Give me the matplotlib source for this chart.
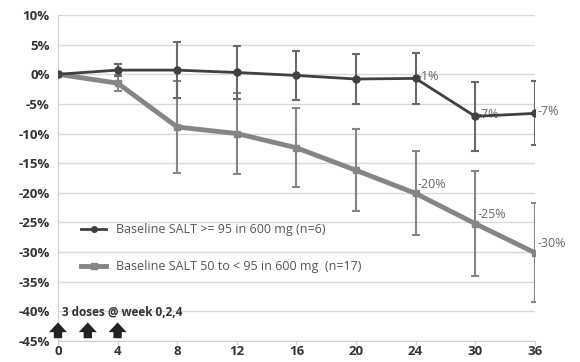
import matplotlib.pyplot as plt
from matplotlib.lines import Line2D
import numpy as np

weeks = ['0', '4', '8', '12', '16', '20', '24', '30', '36']
high = [0, 0.7, 0.7, 0.3, -0.2, -0.8, -0.7, -7.1, -6.6]
high_err = [0, 1.0, 4.7, 4.4, 4.1, 4.2, 4.3, 5.8, 5.4]
mid = [0, -1.5, -8.9, -10.0, -12.4, -16.2, -20.1, -25.2, -30.1]
mid_err = [0, 1.3, 7.8, 6.9, 6.7, 6.9, 7.1, 8.8, 8.4]
high_lbl = ['', '', '', '', '', '', '-1%', '-7%', '-7%']
mid_lbl = ['', '', '', '', '', '', '-20%', '-25%', '-30%']
dose_weeks = [0, 2, 4]

plt.rcParams['font.family'] = ['Open Sans', 'DejaVu Sans']
fig = plt.figure(figsize=(5.8, 3.62), dpi=100)
ax = fig.add_axes([0.1, 0.058, 0.822, 0.9006])

x = np.arange(len(weeks))
c1 = '#404040'
c2 = '#858585'

ax.errorbar(x, mid, yerr=mid_err, color=c2, lw=3.5, marker='s', ms=5,
            ecolor=c2, elinewidth=1.5, capsize=3, capthick=1.5, zorder=3)
ax.errorbar(x, high, yerr=high_err, color=c1, lw=2, marker='o', ms=5,
            ecolor='#6a6a6a', elinewidth=1.5, capsize=3, capthick=1.5, zorder=4)

for xi, yi, t in zip(x, high, high_lbl):
    if t:
        ax.text(xi + 0.04, yi + 0.3, t, color='#6a6a6a', fontsize=9,
                va='center', ha='left')
for xi, yi, t in zip(x, mid, mid_lbl):
    if t:
        ax.text(xi + 0.04, yi + 1.5, t, color='#6a6a6a', fontsize=9,
                va='center', ha='left')

ax.set_xlim(0, len(weeks) - 1)
ax.set_ylim(-45, 10)
ax.set_yticks(np.arange(-45, 11, 5))
ax.set_yticklabels([f'{v}%' for v in range(-45, 11, 5)])
ax.set_xticks(x)
ax.set_xticklabels(weeks)
ax.grid(axis='y', color='#d9d9d9', lw=1)
ax.set_axisbelow(True)
for s in ['top', 'right']:
    ax.spines[s].set_visible(False)
ax.spines['left'].set_color('#cfcfcf')
ax.spines['bottom'].set_color('#cfcfcf')
ax.tick_params(axis='y', length=0, pad=6, labelsize=9.5, labelcolor='#333333')
ax.tick_params(axis='x', length=3, color='#cfcfcf', pad=0, labelsize=9.5,
               labelcolor='#333333')
for t in ax.get_xticklabels() + ax.get_yticklabels():
    t.set_fontweight('bold')

# dose arrows, weeks -> category position (4 weeks per step)
for w in dose_weeks:
    ax.annotate('', xy=(w / 4, -41.4), xytext=(w / 4, -45.0),
                arrowprops=dict(arrowstyle='simple,head_width=1.3,head_length=0.7,tail_width=0.6',
                                color='#222222', lw=0), annotation_clip=False)
ax.text(0.07, -40.2, '3 doses @ week 0,2,4', fontsize=8.5, fontweight='bold',
        color='#333333', va='center')

handles = [Line2D([], [], color=c1, lw=2, marker='o', ms=4),
           Line2D([], [], color=c2, lw=3.5, marker='s', ms=4)]
labels = ['Baseline SALT >= 95 in 600 mg (n=6)',
          'Baseline SALT 50 to < 95 in 600 mg  (n=17)']
ax.legend(handles, labels, loc='upper left', bbox_to_anchor=(0.025, 0.395),
          frameon=False, fontsize=9, labelcolor='#555555', handlelength=2.0,
          labelspacing=1.9)

fig.savefig('out.png', dpi=100)
